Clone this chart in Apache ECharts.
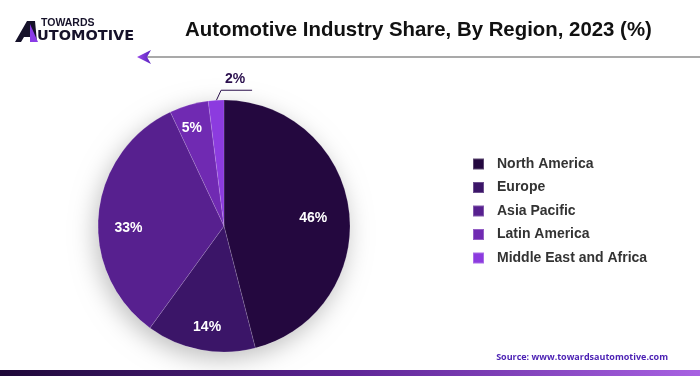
<!DOCTYPE html>
<html>
<head>
<meta charset="utf-8">
<script src="https://cdn.jsdelivr.net/npm/echarts@6/dist/echarts.min.js"></script>
<style>
  html, body { margin: 0; padding: 0; background: #fff; }
  #chart { width: 700px; height: 376px; }
</style>
</head>
<body>
<div id="chart"></div>
<script>
// 数据
var regions = ['North America', 'Europe', 'Asia Pacific', 'Latin America', 'Middle East and Africa'];
var shares = [46, 14, 33, 5, 2];
var colors = ['#24083f', '#3b1568', '#57208f', '#702ab2', '#8c3bdf'];
// 标签微调（像素偏移）
var labelShift = [[-11, 5], [2, 2], [5, 12], [-4, -1]];

var myChart = echarts.init(document.getElementById('chart'));

var pieData = regions.map(function (name, i) {
    return { name: name, value: shares[i], itemStyle: { color: colors[i] } };
});

// 只用来放标签的透明饼
var labelData = regions.map(function (name, i) {
    var item = { name: name, value: shares[i] };
    if (i === 4) {
        item.label = { position: 'outside', color: '#2a0f4d' };
        item.labelLine = { show: true, length: 10, length2: 30, lineStyle: { color: '#2a0f4d', width: 1 } };
    }
    return item;
});

var option = {
    animation: false,
    title: {
        text: 'Automotive Industry Share, By Region, 2023 (%)',
        left: 185,
        top: 20,
        padding: 0,
        textStyle: {
            fontFamily: 'Liberation Sans',
            fontWeight: 'bold',
            fontSize: 20.4,
            color: '#111'
        }
    },
    legend: {
        orient: 'vertical',
        left: 472,
        top: 157,
        padding: 0,
        itemWidth: 11,
        itemHeight: 11,
        itemGap: 9.5,
        icon: 'rect',
        data: regions,
        textStyle: {
            fontFamily: 'Liberation Sans',
            fontWeight: 'bold',
            fontSize: 14,
            lineHeight: 14,
            color: '#333',
            padding: [0, 0, 0, 8]
        }
    },
    graphic: [
        // logo
        { type: 'polygon', shape: { points: [[15, 42], [27, 21], [35, 21], [37, 42], [31, 42], [30, 37], [24, 37], [21, 42]] }, style: { fill: '#16122a' } },
        { type: 'polygon', shape: { points: [[30, 24], [38, 42], [30, 42]] }, style: { fill: '#8a3ce6' } },
        { type: 'text', x: 41, y: 23.5, style: { text: 'TOWARDS', font: 'bold 10.5px "Liberation Sans"', fill: '#16122a', verticalAlign: 'middle' } },
        { type: 'text', x: 37, y: 36.5, style: { text: 'UTOMOTIVE', font: 'bold 14.5px "DejaVu Sans"', fill: '#16122a', verticalAlign: 'middle' } },
        // 标题下的线和箭头
        { type: 'line', shape: { x1: 146, y1: 57, x2: 700, y2: 57 }, style: { stroke: '#555', lineWidth: 1.2 } },
        {
            type: 'polygon',
            shape: { points: [[137, 57], [151, 50], [147, 57], [151, 64]] },
            style: { fill: new echarts.graphic.LinearGradient(0, 0, 1, 0, [{ offset: 0, color: '#9a4ae8' }, { offset: 1, color: '#5a22c0' }]) }
        },
        // 来源
        { type: 'text', x: 668, y: 357, style: { text: 'Source: www.towardsautomotive.com', font: 'bold 9px "Open Sans"', fill: '#4a1fb3', align: 'right', verticalAlign: 'middle' } },
        // 底部渐变条
        {
            type: 'rect',
            shape: { x: 0, y: 370, width: 700, height: 6 },
            style: { fill: new echarts.graphic.LinearGradient(0, 0, 1, 0, [{ offset: 0, color: '#1e0838' }, { offset: 0.5, color: '#5e2596' }, { offset: 1, color: '#a862e2' }]) }
        }
    ],
    series: [
        {
            // 阴影底
            type: 'pie',
            center: [224, 226],
            radius: 126,
            silent: true,
            label: { show: false },
            data: [{ name: '', value: 1 }],
            itemStyle: { color: '#fff', shadowBlur: 24, shadowOffsetX: -3, shadowOffsetY: 7, shadowColor: 'rgba(0,0,0,0.25)' }
        },
        {
            name: 'share',
            type: 'pie',
            center: [224, 226],
            radius: 126,
            startAngle: 90,
            label: { show: false },
            labelLine: { show: false },
            itemStyle: { borderColor: 'rgba(255,255,255,0.25)', borderWidth: 0.5 },
            data: pieData
        },
        {
            name: 'label',
            type: 'pie',
            center: [224, 226],
            radius: [70, 126],
            startAngle: 90,
            silent: true,
            legendHoverLink: false,
            itemStyle: { color: 'rgba(0,0,0,0)' },
            label: {
                show: true,
                position: 'inside',
                formatter: '{c}%',
                fontFamily: 'Liberation Sans',
                fontWeight: 'bold',
                fontSize: 14,
                color: '#fff'
            },
            labelLine: { show: false },
            labelLayout: function (p) {
                if (p.dataIndex < 4) {
                    return { dx: labelShift[p.dataIndex][0], dy: labelShift[p.dataIndex][1] };
                }
                if (!p.labelLinePoints) return {};
                var p0 = p.labelLinePoints[0];
                var s = [p0[0] - 2, p0[1] + 5];
                var m = [s[0] + 7, s[1] - 15];
                var e = [m[0] + 31, m[1]];
                return {
                    x: m[0] + 14,
                    y: m[1] - 11,
                    align: 'center',
                    verticalAlign: 'middle',
                    labelLinePoints: [s, m, e]
                };
            },
            data: labelData
        }
    ]
};

myChart.setOption(option);
</script>
</body>
</html>
